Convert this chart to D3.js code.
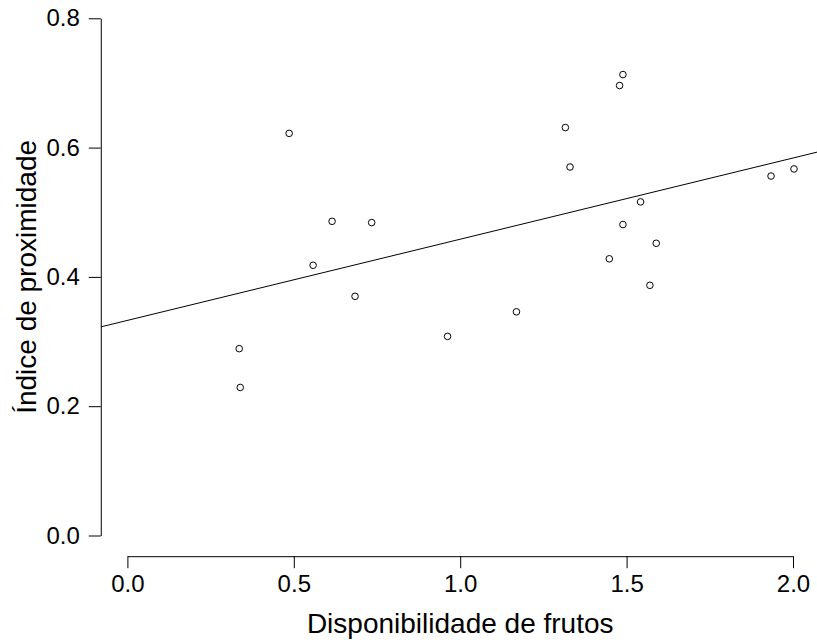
<!DOCTYPE html>
<html>
<head>
<meta charset="utf-8">
<script src="https://cdn.jsdelivr.net/npm/d3@7"></script>
<style>
  body { margin: 0; background: #fff; }
  text { font-family: "Liberation Sans", Arial, sans-serif; fill: #000; }
</style>
</head>
<body>
<div id="chart"></div>
<script>
// Chart size
const width = 817;
const height = 642;

// Data
const disponibilidade = [0.336, 0.339, 0.486, 0.558, 0.615, 0.684, 0.734, 0.962, 1.169, 1.316,
                         1.330, 1.448, 1.479, 1.489, 1.489, 1.542, 1.570, 1.589, 1.934, 2.003];
const proximidade     = [0.289, 0.229, 0.622, 0.418, 0.486, 0.370, 0.484, 0.308, 0.346, 0.631,
                         0.570, 0.428, 0.696, 0.713, 0.481, 0.516, 0.387, 0.452, 0.556, 0.567];
// fitted line (intercept, slope) as drawn
const fit = [0.3327, 0.1256];
const xTicks = [0, 0.5, 1, 1.5, 2];
const yTicks = [0, 0.2, 0.4, 0.6, 0.8];

const points = disponibilidade.map((d, i) => ({ x: d, y: proximidade[i] }));

// Scales (R style: axes sit 4% outside the data limits)
const x = d3.scaleLinear().domain([0, 2]).range([127.4, 793]);
const y = d3.scaleLinear().domain([0, 0.8]).range([535.5, 18.3]);

const svg = d3.select("#chart")
  .append("svg")
  .attr("width", width)
  .attr("height", height);

// plot region clip
const plotLeft = x(-0.08), plotRight = x(2.08), plotTop = y(0.832), plotBottom = y(-0.032);
svg.append("clipPath").attr("id", "plotclip")
  .append("rect")
  .attr("x", plotLeft).attr("y", plotTop)
  .attr("width", plotRight - plotLeft).attr("height", plotBottom - plotTop);

// X axis
const xAxis = svg.append("g")
  .attr("transform", `translate(0,${plotBottom})`)
  .call(d3.axisBottom(x).tickValues(xTicks).tickFormat(d3.format(".1f"))
    .tickSize(12).tickSizeOuter(0).tickPadding(7));

// Y axis
const yAxis = svg.append("g")
  .attr("transform", `translate(${plotLeft},0)`)
  .call(d3.axisLeft(y).tickValues(yTicks).tickFormat(d3.format(".1f"))
    .tickSize(12).tickSizeOuter(0).tickPadding(9));

[xAxis, yAxis].forEach(g => {
  g.select(".domain").attr("stroke", "#000").attr("stroke-width", 1);
  g.selectAll(".tick line").attr("stroke", "#000").attr("stroke-width", 1);
  g.selectAll(".tick text")
    .attr("font-family", "Liberation Sans, Arial, sans-serif")
    .attr("font-size", 24)
    .attr("fill", "#000");
});

// Axis titles
svg.append("text")
  .attr("x", (x(0) + x(2)) / 2)
  .attr("y", 633)
  .attr("text-anchor", "middle")
  .attr("font-size", 28)
  .text("Disponibilidade de frutos");

svg.append("text")
  .attr("transform", `translate(36,${(y(0) + y(0.8)) / 2}) rotate(-90)`)
  .attr("text-anchor", "middle")
  .attr("font-size", 28)
  .text("Índice de proximidade");

// Regression line
svg.append("line")
  .attr("clip-path", "url(#plotclip)")
  .attr("x1", x(-0.08)).attr("y1", y(fit[0] + fit[1] * -0.08))
  .attr("x2", x(2.08)).attr("y2", y(fit[0] + fit[1] * 2.08))
  .attr("stroke", "#000")
  .attr("stroke-width", 1);

// Points
svg.selectAll("circle")
  .data(points)
  .enter()
  .append("circle")
  .attr("cx", d => x(d.x))
  .attr("cy", d => y(d.y))
  .attr("r", 3.3)
  .attr("fill", "none")
  .attr("stroke", "#000")
  .attr("stroke-width", 1);
</script>
</body>
</html>
